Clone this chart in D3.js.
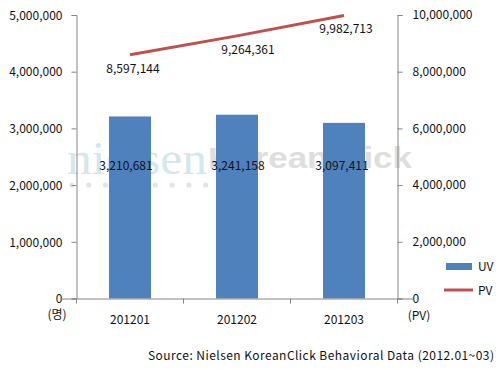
<!DOCTYPE html>
<html><head><meta charset="utf-8">
<script src="https://cdn.jsdelivr.net/npm/d3@7"></script>
<style>
body{margin:0;background:#fff;}
text{font-family:"Noto Sans CJK KR","Noto Sans",sans-serif;}
</style></head>
<body><svg id="c" width="500" height="370"></svg>
<script>
const categories = ["201201","201202","201203"];
const uvValues = [3210681, 3241158, 3097411];
const pvValues = [8597144, 9264361, 9982713];
const leftTicks = [0,1000000,2000000,3000000,4000000,5000000];
const rightTicks = [0,2000000,4000000,6000000,8000000,10000000];
const sourceText = "Source: Nielsen KoreanClick Behavioral Data (2012.01~03)";

const svg = d3.select("#c");
const W=500,H=370;
const x0=76.5, x1=397.5, yTop=15, yBot=298.5;
const x = d3.scaleBand().domain(categories).range([x0,x1]).paddingInner(0.6).paddingOuter(0.3);
const band = d3.scaleBand().domain(categories).range([x0,x1]);
const yL = d3.scaleLinear().domain([0,5000000]).range([yBot,yTop]);
const yR = d3.scaleLinear().domain([0,10000000]).range([yBot,yTop]);
const fmt = d3.format(",");
const axisCol="#868686";

// watermark
const wm = svg.append("g");
wm.append("text").attr("x",67).attr("y",174).attr("font-family","'DejaVu Serif','Liberation Serif',serif")
  .style("font-family","'Liberation Serif',serif").attr("font-size",46).attr("fill","#d4e7ef")
  .attr("textLength",140).attr("lengthAdjust","spacingAndGlyphs").text("nielsen");
wm.append("text").attr("x",208).attr("y",168).style("font-family","'Liberation Sans',Arial,sans-serif")
  .attr("font-weight","bold").attr("font-size",30).attr("fill","#dedede")
  .attr("textLength",204).attr("lengthAdjust","spacingAndGlyphs").text("KoreanClick");
wm.selectAll("circle").data(d3.range(9)).enter().append("circle")
  .attr("cx",d=>72+d*16.7).attr("cy",185).attr("r",2.6).attr("fill","#e4e4e4");

// bars
svg.selectAll("rect.bar").data(uvValues).enter().append("rect").attr("class","bar")
  .attr("x",(d,i)=>band(categories[i])+band.bandwidth()/2-21)
  .attr("width",42)
  .attr("y",d=>yL(d)).attr("height",d=>yBot-yL(d)).attr("fill","#4f81bd");

// axes
const gL = svg.append("g").attr("transform",`translate(${x0},0)`)
  .call(d3.axisLeft(yL).tickValues(leftTicks).tickFormat(fmt).tickSize(5).tickPadding(9));
const gR = svg.append("g").attr("transform",`translate(${x1},0)`)
  .call(d3.axisRight(yR).tickValues(rightTicks).tickFormat(fmt).tickSize(5).tickPadding(10));
const gX = svg.append("g").attr("transform",`translate(0,${yBot})`)
  .call(d3.axisBottom(band).tickSize(0).tickPadding(17));
// x ticks at band boundaries
svg.selectAll("line.xt").data(d3.range(categories.length+1)).enter().append("line")
  .attr("x1",i=>x0+i*band.step()).attr("x2",i=>x0+i*band.step())
  .attr("y1",yBot).attr("y2",yBot+5).attr("stroke",axisCol);
[gL,gR,gX].forEach(g=>{
  g.select(".domain").attr("stroke",axisCol);
  g.selectAll(".tick line").attr("stroke",axisCol);
  g.selectAll("text").attr("font-size",12).attr("fill","#111").style("font-family","'Noto Sans CJK KR','Noto Sans',sans-serif");
});
gX.select(".domain").attr("d",`M${x0-16},0.5H${x1+16}`);
gL.selectAll(".tick text").attr("dy","0.35em");

// line
const line = d3.line().x((d,i)=>band(categories[i])+band.bandwidth()/2).y(d=>yR(d));
svg.append("path").datum(pvValues).attr("d",line).attr("fill","none")
  .attr("stroke","#c0504d").attr("stroke-width",3);

// labels
const pvDx=[3,11,2];
svg.selectAll("text.pvl").data(pvValues).enter().append("text").attr("class","pvl")
  .attr("x",(d,i)=>band(categories[i])+band.bandwidth()/2+pvDx[i]).attr("y",d=>yR(d)+18)
  .attr("text-anchor","middle").attr("font-size",12).attr("fill","#111").text(fmt);
const uvDx=[-4,1,-2];
svg.selectAll("text.uvl").data(uvValues).enter().append("text").attr("class","uvl")
  .attr("x",(d,i)=>band(categories[i])+band.bandwidth()/2+uvDx[i]).attr("y",yL(2330000)+4)
  .attr("text-anchor","middle").attr("font-size",12).attr("fill","#111").text(fmt);

// axis unit labels
svg.append("text").attr("x",57).attr("y",319).attr("text-anchor","middle").attr("font-size",12).attr("fill","#111").text("(명)");
svg.append("text").attr("x",419).attr("y",320).attr("text-anchor","middle").attr("font-size",12).attr("fill","#111").text("(PV)");

// legend
svg.append("rect").attr("x",446).attr("y",263).attr("width",26).attr("height",7).attr("fill","#4f81bd");
svg.append("text").attr("x",478).attr("y",271).attr("font-size",12).attr("fill","#111").text("UV");
svg.append("line").attr("x1",444).attr("x2",473).attr("y1",290).attr("y2",290).attr("stroke","#c0504d").attr("stroke-width",3);
svg.append("text").attr("x",478).attr("y",295).attr("font-size",12).attr("fill","#111").text("PV");

// source
svg.append("text").attr("x",494).attr("y",360).attr("text-anchor","end").attr("font-size",12)
  .attr("fill","#111").attr("textLength",346).attr("lengthAdjust","spacing").text(sourceText);
</script></body></html>
